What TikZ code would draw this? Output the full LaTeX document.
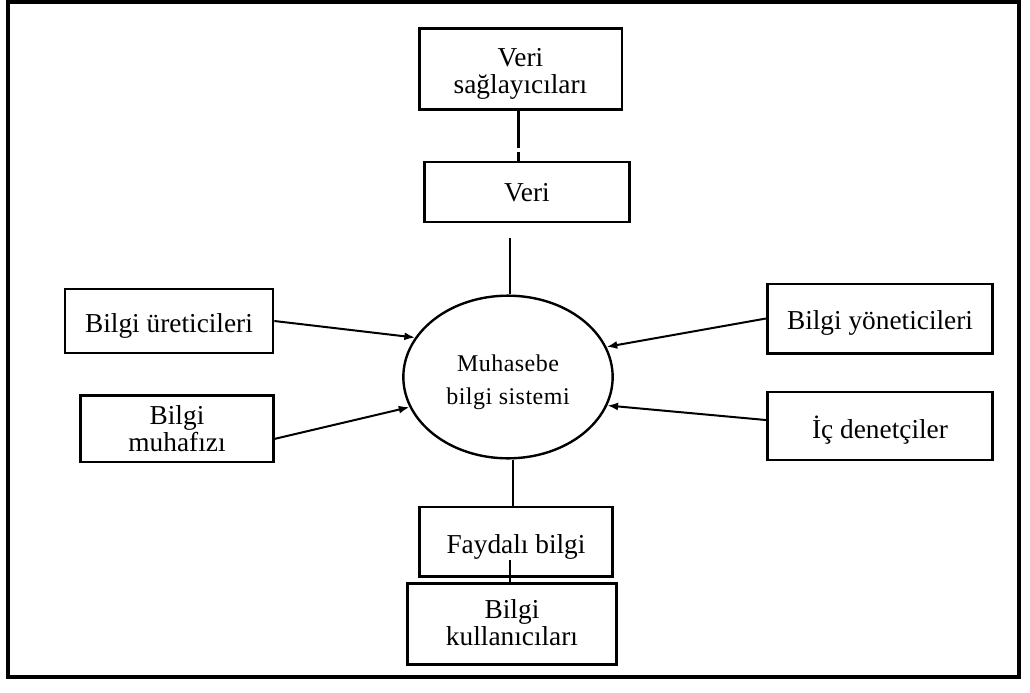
\documentclass[tikz,border=0pt]{standalone}
\usepackage{fontspec}
\setmainfont{Liberation Serif}
\usetikzlibrary{arrows.meta,shapes.geometric}

\tikzstyle{kutu} = [draw, line width=2pt, rectangle, align=center, inner sep=0pt, font=\fontsize{20.5}{20.5}\selectfont]
\tikzstyle{ok} = [line width=1.5pt, -{Latex[length=8pt,width=6pt]}]
\tikzstyle{cizgi} = [line width=1.6pt]
% metni kutu icinde asagi kaydirir
\newcommand{\yazi}[2]{\raisebox{-#1}[\height][\depth]{\begin{tabular}{@{}c@{}}#2\end{tabular}}}

\begin{document}
\begin{tikzpicture}[x=0.75pt, y=-0.75pt]
\useasboundingbox (0,0) rectangle (1030,692);
\draw[line width=2.8pt] (8,2) rectangle (1019,677);

\node [kutu, minimum width=152pt, minimum height=61pt] (saglayici) at (520.5,69) {\yazi{4pt}{Veri\\sağlayıcıları}};
\node [kutu, minimum width=154pt, minimum height=45pt] (veri) at (527,192) {\yazi{3pt}{Veri}};
\node [draw, ellipse, line width=1.8pt, minimum width=157pt, minimum height=122pt, inner sep=0pt, align=center,
       font=\fontsize{18}{25}\selectfont\addfontfeatures{LetterSpace=2}] (mbs) at (508,377) {\yazi{3pt}{Muhasebe\\bilgi sistemi}};
\node [kutu, minimum width=156pt, minimum height=48pt] (uretici) at (169,321) {\yazi{4.5pt}{Bilgi üreticileri}};
\node [kutu, minimum width=145pt, minimum height=50pt] (muhafiz) at (177,428.5) {\yazi{3pt}{Bilgi\\muhafızı}};
\node [kutu, minimum width=169pt, minimum height=52pt] (yonetici) at (880,318.5) {\yazi{4.5pt}{Bilgi yöneticileri}};
\node [kutu, minimum width=169pt, minimum height=51pt] (denetci) at (880,426) {\yazi{4pt}{İç denetçiler}};
\node [kutu, minimum width=145pt, minimum height=52pt] (faydali) at (516,541.5) {\yazi{5pt}{Faydalı bilgi}};
\node [kutu, minimum width=157pt, minimum height=61pt] (kullanici) at (512,624) {\yazi{2pt}{Bilgi\\kullanıcıları}};

% dikey baglantilar
\coordinate (v1) at (510,238);
\coordinate (f1) at (513,507);
\coordinate (f2) at (510,560);
\draw[cizgi, dash pattern=on 27.5pt off 3.5pt on 20pt] (saglayici.south) ++(-2,0) coordinate (s1) -- (s1 |- veri.north);
\draw[cizgi] (v1) -- (v1 |- mbs.north);
\draw[cizgi] (f1 |- mbs.south) -- (f1);
\draw[cizgi] (f2) -- (f2 |- kullanici.north);

% oklar
\draw[ok] (uretici.east) -- (mbs.157);
\draw[ok] (muhafiz.-6) -- (mbs.197);
\draw[ok] (yonetici.west) -- (mbs.17);
\draw[ok] (denetci.177) -- (mbs.-16);
\end{tikzpicture}
\end{document}
